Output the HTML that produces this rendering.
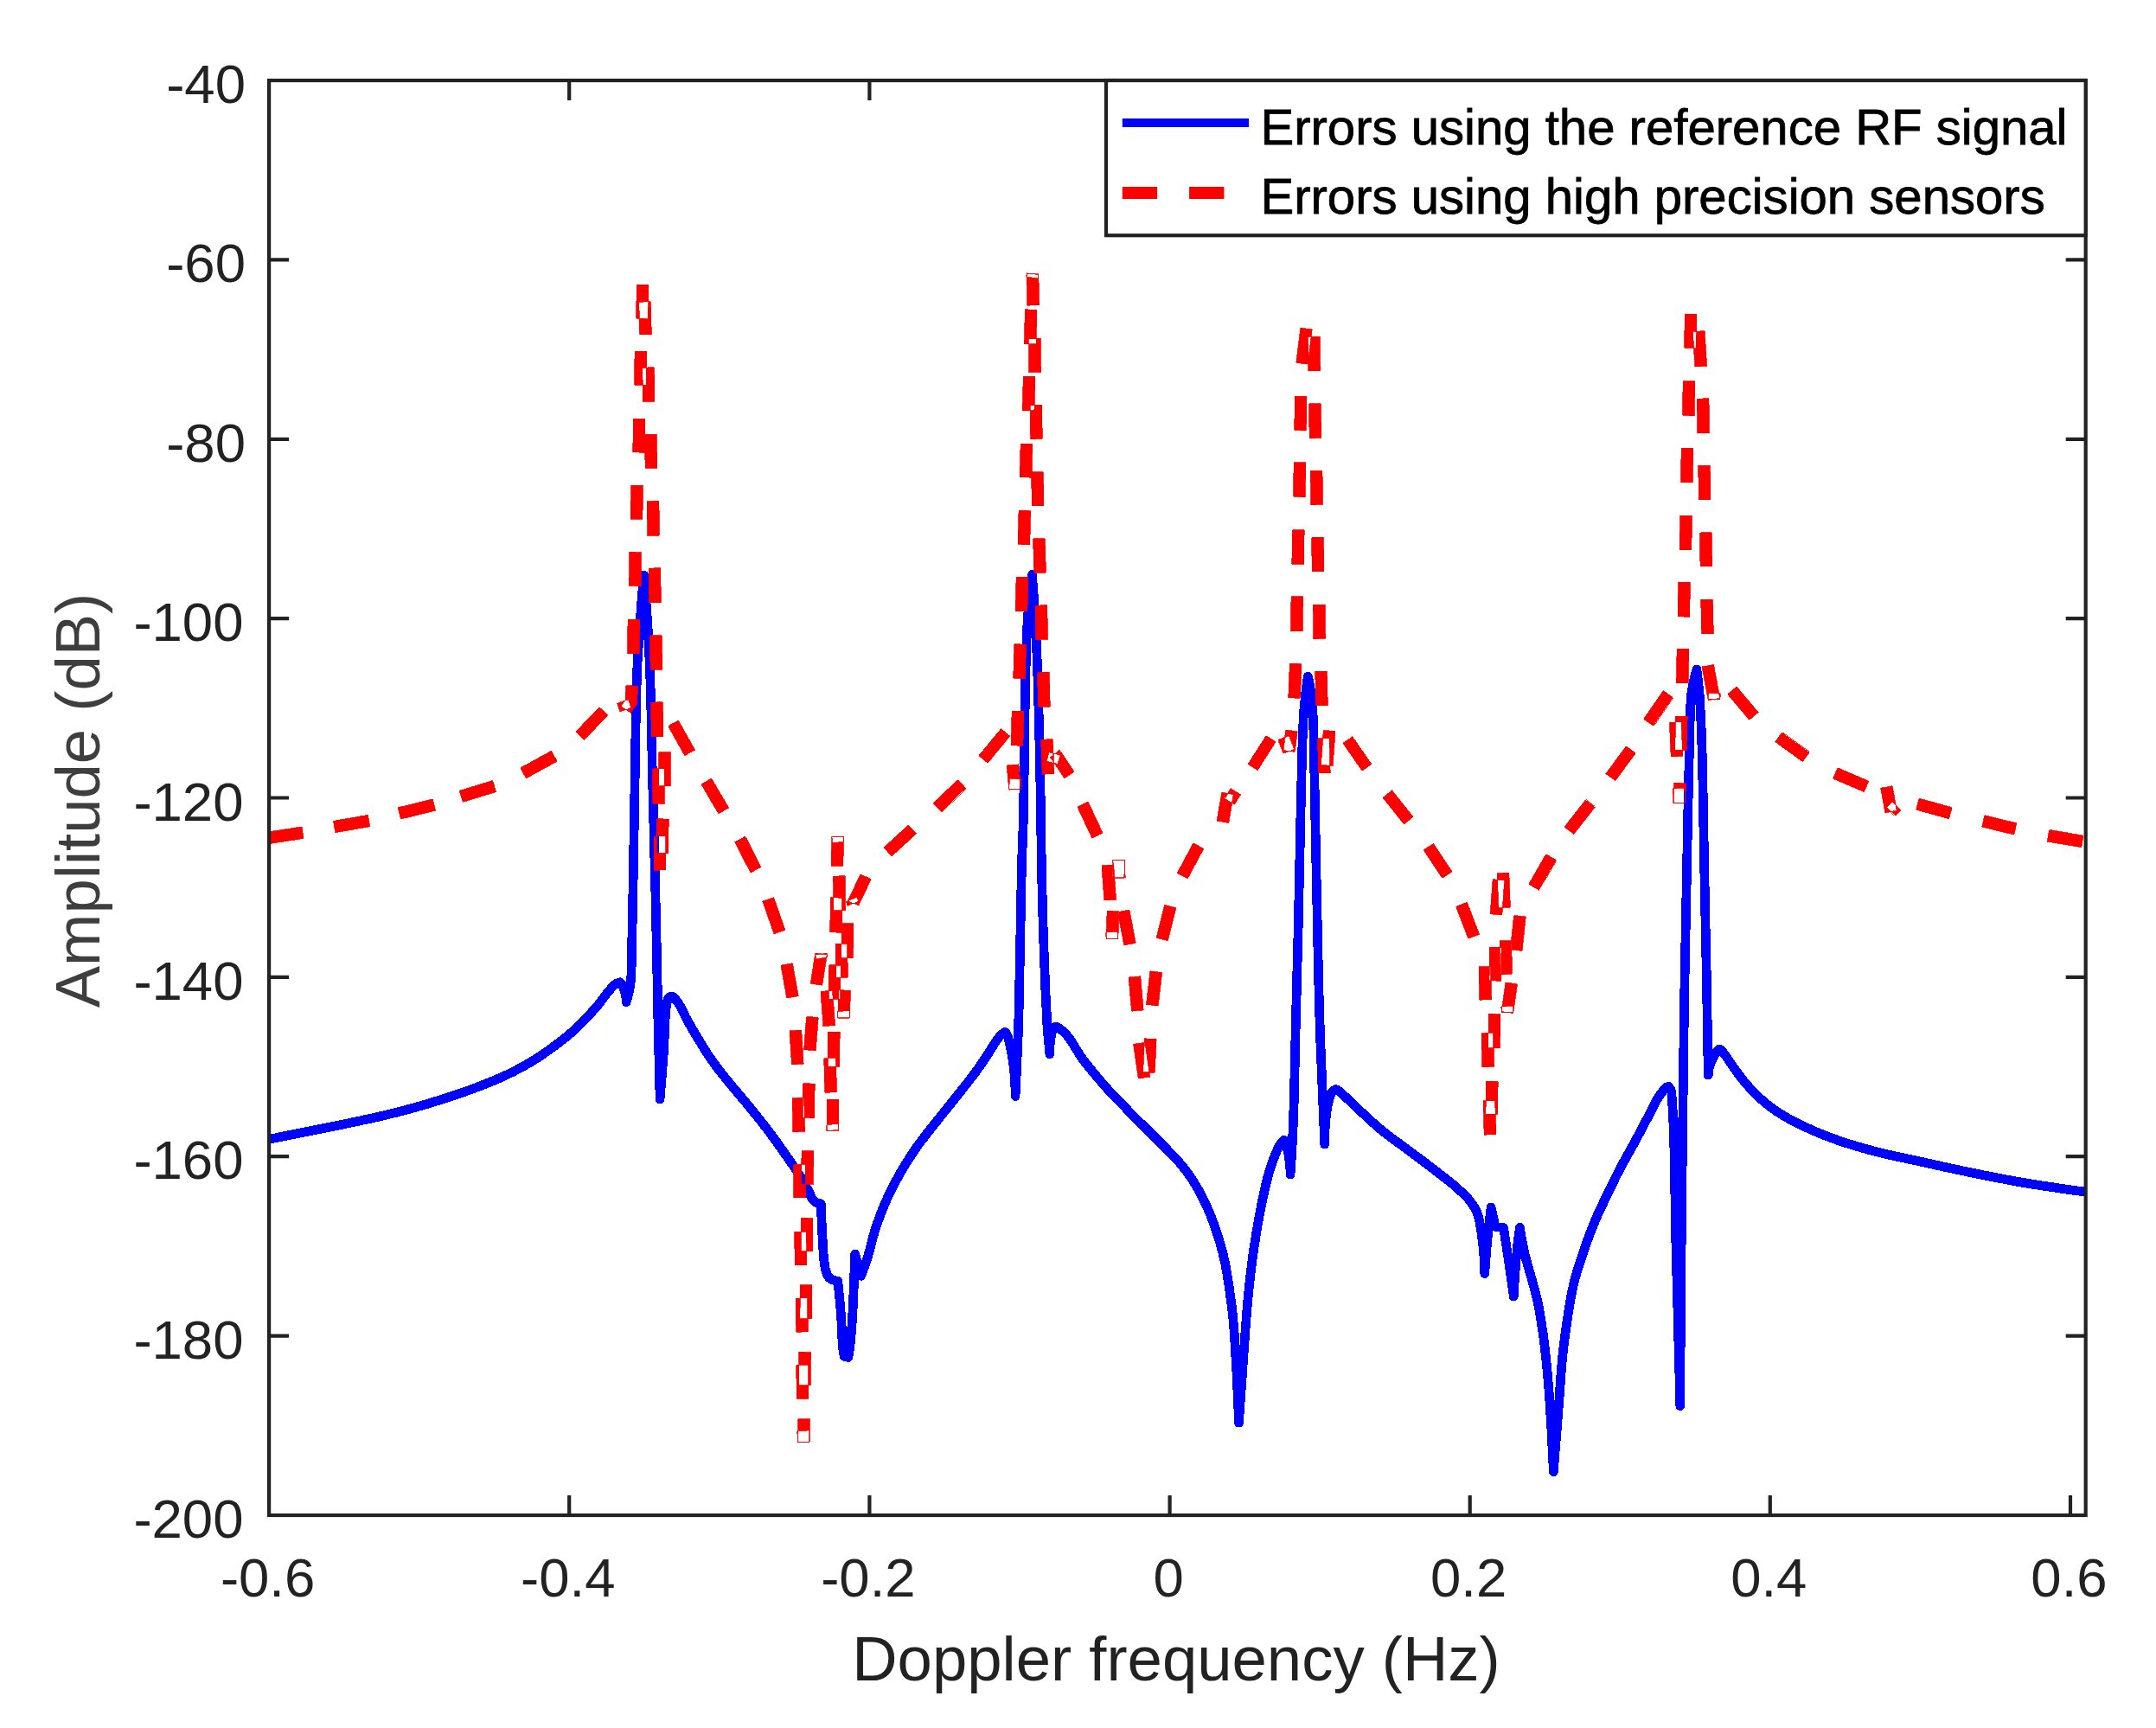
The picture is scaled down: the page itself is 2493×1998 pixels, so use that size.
<!DOCTYPE html>
<html lang="en"><head><meta charset="utf-8"><title>Doppler spectrum errors</title>
<style>
html,body{margin:0;padding:0;background:#fff;}
body{width:2493px;height:1998px;overflow:hidden;}
svg{display:block;}
text{font-family:"Liberation Sans",sans-serif;}
.tk{font-size:63.5px;fill:#222222;}
.lb{font-size:72.5px;fill:#222222;}
.lg{font-size:58.1px;fill:#000;stroke:#000;stroke-width:0.8px;}
</style></head><body>
<svg width="2493" height="1998" viewBox="0 0 2493 1998">
<rect x="0" y="0" width="2493" height="1998" fill="#ffffff"/>

<defs><clipPath id="ax"><rect x="311.1" y="93.0" width="2100.6" height="1659.0"/></clipPath></defs>
<g clip-path="url(#ax)" shape-rendering="crispEdges">
<path d="M433.9 1297.6 L457.6 1292.0 L469.3 1289.0 L484.7 1284.7 L496.4 1281.3 L510.0 1277.1 L523.3 1272.8 L534.7 1268.9 L546.1 1264.9 L557.5 1260.6 L572.6 1254.6 L583.8 1249.7 L594.8 1244.4 L605.5 1238.9 L616.1 1232.8 L626.7 1226.2 L636.6 1219.3 L646.4 1212.2 L656.1 1204.7 L662.4 1199.5 L668.6 1194.1 L674.5 1188.4 L685.9 1176.5 L693.9 1167.6 L696.6 1164.3 L706.3 1151.4 L711.2 1145.6 L713.5 1143.4 L715.3 1142.2 L716.1 1144.4 L717.2 1147.7 L718.0 1151.2 L718.6 1154.8 L718.8 1159.0 L719.1 1160.6 L719.9 1162.1 L721.2 1163.2 L722.7 1163.9 L724.4 1164.0 L726.0 1163.7 L727.4 1162.9 L728.6 1161.6 L729.3 1160.1 L731.4 1152.3 L733.3 1144.2 L734.6 1135.9 L735.1 1129.4 L735.5 1119.2 L737.2 1034.7 L739.1 926.1 L740.6 829.5 L741.8 780.2 L742.7 761.4 L744.3 736.3 L745.4 757.3 L746.5 785.3 L747.5 821.4 L749.2 900.1 L752.6 1034.3 L753.9 1094.5 L755.6 1182.9 L757.8 1271.3 L758.0 1272.9 L758.8 1274.4 L759.9 1275.5 L761.4 1276.3 L762.9 1276.5 L764.5 1276.3 L766.0 1275.7 L767.2 1274.6 L768.1 1273.2 L768.4 1271.6 L770.7 1243.7 L772.8 1215.7 L773.4 1203.6 L774.4 1179.5 L774.9 1171.7 L775.7 1164.0 L776.2 1160.6 L776.8 1158.7 L779.3 1161.8 L781.2 1164.8 L783.0 1168.0 L788.3 1178.9 L790.2 1182.5 L796.3 1193.2 L802.5 1203.6 L811.0 1217.4 L815.3 1224.1 L820.0 1230.8 L827.3 1240.6 L834.8 1250.1 L845.1 1262.6 L858.0 1277.8 L873.1 1296.4 L882.9 1308.9 L892.3 1321.7 L906.1 1341.2 L915.2 1354.3 L919.5 1360.9 L923.5 1367.6 L930.1 1379.3 L931.1 1381.3 L932.9 1385.4 L934.8 1389.1 L935.6 1390.3 L938.1 1393.1 L939.8 1394.3 L942.9 1395.8 L944.2 1396.2 L944.7 1412.5 L946.2 1441.1 L946.8 1449.3 L947.5 1457.5 L948.9 1467.5 L949.6 1470.5 L951.0 1474.7 L951.4 1475.6 L953.4 1479.2 L954.1 1480.2 L955.2 1481.3 L956.0 1482.0 L957.5 1483.1 L958.4 1483.7 L962.1 1485.3 L963.9 1485.8 L965.6 1502.5 L967.0 1519.1 L967.5 1527.3 L968.5 1548.1 L969.5 1560.7 L970.2 1565.2 L971.1 1569.6 L971.6 1571.0 L972.5 1572.2 L973.7 1573.2 L975.1 1573.7 L979.6 1574.7 L981.4 1574.8 L983.0 1574.4 L984.5 1573.4 L985.5 1572.0 L986.1 1570.4 L987.5 1562.3 L988.5 1553.7 L989.7 1541.3 L990.6 1528.7 L991.8 1508.1 L992.9 1479.9 L993.6 1480.3 L995.2 1480.6 L996.9 1480.5 L998.4 1479.8 L999.6 1478.7 L1000.5 1477.2 L1003.5 1469.5 L1007.5 1457.9 L1011.0 1446.4 L1013.9 1434.4 L1016.0 1426.9 L1019.7 1415.6 L1023.9 1404.4 L1027.2 1395.9 L1029.9 1389.8 L1034.9 1379.0 L1040.4 1368.4 L1044.2 1361.5 L1048.2 1354.6 L1052.3 1347.8 L1058.8 1337.7 L1063.2 1331.2 L1067.7 1324.8 L1075.0 1315.3 L1092.5 1293.2 L1110.2 1271.3 L1122.7 1255.4 L1130.2 1245.7 L1135.0 1239.1 L1139.7 1232.4 L1148.6 1219.0 L1155.0 1208.5 L1157.1 1205.5 L1159.3 1202.7 L1160.6 1201.4 L1163.1 1211.7 L1165.2 1222.8 L1166.8 1234.3 L1168.0 1246.3 L1168.6 1258.8 L1168.8 1267.6 L1169.0 1269.2 L1169.8 1270.7 L1170.9 1271.8 L1172.4 1272.6 L1174.0 1272.8 L1175.6 1272.6 L1177.1 1271.9 L1178.3 1270.8 L1179.1 1269.4 L1179.4 1267.7 L1182.2 1207.4 L1183.1 1183.3 L1183.7 1159.1 L1186.5 1014.2 L1187.0 994.2 L1188.5 954.0 L1188.9 937.8 L1189.4 905.6 L1190.6 813.1 L1191.3 776.9 L1192.1 748.8 L1192.6 735.6 L1193.6 756.9 L1194.9 793.1 L1196.0 833.2 L1197.1 881.5 L1198.2 941.7 L1198.9 994.0 L1199.5 1022.2 L1200.7 1066.5 L1202.0 1106.7 L1203.6 1146.9 L1205.4 1183.1 L1206.3 1195.3 L1208.5 1219.4 L1208.9 1220.9 L1209.7 1222.3 L1210.9 1223.4 L1212.4 1224.1 L1214.0 1224.2 L1215.6 1224.0 L1217.0 1223.2 L1218.1 1222.1 L1218.9 1220.6 L1219.1 1219.0 L1219.4 1209.5 L1219.7 1205.5 L1220.2 1201.7 L1220.7 1198.4 L1221.4 1195.3 L1222.0 1193.7 L1223.4 1194.6 L1226.1 1196.9 L1228.5 1199.3 L1230.8 1202.0 L1233.0 1204.9 L1235.1 1208.1 L1243.8 1222.1 L1246.1 1225.7 L1248.6 1229.2 L1253.6 1235.5 L1261.3 1245.0 L1269.1 1254.2 L1277.1 1263.2 L1285.4 1272.1 L1293.9 1280.8 L1308.0 1295.2 L1327.9 1314.9 L1347.7 1334.8 L1353.2 1340.5 L1358.5 1346.2 L1362.7 1351.2 L1365.8 1355.2 L1370.5 1361.5 L1372.7 1364.7 L1374.9 1367.9 L1378.9 1374.5 L1384.6 1384.9 L1389.8 1395.4 L1394.5 1406.3 L1398.7 1417.3 L1402.2 1427.5 L1406.0 1439.8 L1409.0 1451.3 L1411.6 1462.8 L1413.7 1474.4 L1416.1 1490.2 L1418.8 1509.9 L1420.2 1521.7 L1421.3 1533.6 L1422.6 1553.5 L1424.7 1589.4 L1426.0 1617.4 L1427.2 1645.4 L1427.5 1647.0 L1428.2 1648.4 L1429.4 1649.5 L1430.8 1650.3 L1432.4 1650.5 L1434.0 1650.3 L1435.5 1649.6 L1436.7 1648.5 L1437.5 1647.2 L1437.8 1645.6 L1445.4 1537.2 L1448.0 1505.2 L1450.0 1485.2 L1452.3 1465.3 L1454.4 1449.5 L1457.4 1429.7 L1460.8 1409.9 L1464.6 1390.3 L1469.0 1370.8 L1470.9 1363.1 L1473.0 1355.5 L1475.4 1348.0 L1476.7 1344.4 L1479.5 1337.1 L1482.6 1329.9 L1483.1 1328.9 L1484.4 1334.5 L1485.6 1342.2 L1486.1 1345.9 L1486.7 1353.9 L1486.8 1358.0 L1487.0 1359.6 L1487.8 1361.1 L1488.9 1362.2 L1490.4 1363.0 L1492.0 1363.2 L1493.6 1363.0 L1495.1 1362.3 L1496.3 1361.2 L1497.1 1359.8 L1497.4 1358.2 L1499.2 1330.3 L1500.2 1310.2 L1500.9 1294.1 L1501.7 1270.1 L1503.7 1182.1 L1506.7 1066.1 L1509.3 942.0 L1510.7 882.0 L1511.5 854.1 L1512.3 832.9 L1512.8 826.4 L1513.2 832.8 L1514.0 862.1 L1514.9 918.2 L1517.1 1026.6 L1519.0 1118.8 L1520.1 1163.0 L1521.4 1203.2 L1526.4 1323.4 L1526.7 1325.0 L1527.5 1326.5 L1528.7 1327.6 L1530.1 1328.3 L1531.8 1328.5 L1533.4 1328.3 L1534.8 1327.5 L1536.0 1326.4 L1536.8 1324.9 L1537.0 1323.3 L1537.3 1308.5 L1538.2 1295.5 L1539.0 1287.8 L1539.6 1284.2 L1540.9 1277.3 L1542.5 1271.0 L1543.8 1266.6 L1544.8 1265.7 L1546.1 1266.8 L1552.1 1272.2 L1563.8 1283.4 L1578.6 1297.2 L1587.7 1305.4 L1593.9 1310.7 L1603.7 1318.4 L1623.3 1332.7 L1645.9 1349.6 L1671.4 1369.3 L1677.5 1374.3 L1686.4 1382.3 L1692.0 1387.7 L1694.3 1390.4 L1698.9 1396.6 L1700.8 1399.7 L1702.4 1402.8 L1703.6 1406.0 L1704.7 1409.6 L1705.6 1413.3 L1706.3 1417.1 L1708.0 1428.8 L1709.9 1444.7 L1710.6 1452.6 L1711.1 1460.5 L1711.5 1472.6 L1711.7 1474.2 L1712.5 1475.7 L1713.6 1476.8 L1715.1 1477.6 L1716.7 1477.8 L1718.3 1477.6 L1719.8 1477.0 L1721.0 1475.9 L1721.8 1474.5 L1722.1 1472.9 L1723.6 1452.7 L1725.7 1428.7 L1726.3 1422.9 L1726.5 1423.0 L1728.0 1423.5 L1733.9 1424.4 L1739.4 1460.2 L1745.0 1499.9 L1745.5 1501.6 L1746.6 1503.0 L1748.0 1504.0 L1749.7 1504.5 L1751.4 1504.4 L1753.0 1503.8 L1754.4 1502.7 L1755.3 1501.2 L1755.6 1499.5 L1756.7 1479.4 L1758.2 1459.5 L1758.7 1454.4 L1760.2 1460.1 L1765.8 1479.4 L1770.0 1494.9 L1772.8 1506.5 L1773.8 1511.5 L1775.7 1522.0 L1778.8 1541.8 L1780.8 1557.6 L1782.6 1573.6 L1784.1 1589.6 L1785.5 1605.6 L1786.9 1625.6 L1788.4 1650.2 L1789.8 1677.8 L1791.0 1701.9 L1791.3 1703.5 L1792.0 1704.9 L1793.2 1706.1 L1794.6 1706.8 L1796.2 1707.0 L1797.8 1706.8 L1799.3 1706.2 L1800.4 1705.1 L1801.3 1703.7 L1801.6 1702.1 L1807.1 1634.1 L1810.9 1581.9 L1812.0 1569.4 L1813.2 1558.2 L1814.7 1546.3 L1817.0 1530.4 L1819.4 1514.6 L1821.4 1502.8 L1822.9 1495.0 L1824.8 1485.8 L1826.3 1479.7 L1828.5 1472.1 L1832.1 1460.8 L1838.5 1441.8 L1842.6 1430.6 L1846.9 1419.5 L1849.9 1412.2 L1854.8 1401.3 L1868.6 1372.4 L1873.9 1361.7 L1879.4 1351.0 L1896.9 1319.4 L1911.9 1291.0 L1919.2 1276.6 L1921.0 1273.4 L1922.9 1270.5 L1925.6 1266.8 L1927.5 1264.3 L1928.8 1283.2 L1929.9 1306.5 L1930.4 1322.4 L1930.9 1342.6 L1932.3 1428.9 L1937.5 1625.7 L1937.8 1627.4 L1938.5 1628.8 L1939.7 1630.0 L1941.2 1630.7 L1942.9 1630.9 L1944.5 1630.7 L1946.0 1629.9 L1947.1 1628.7 L1947.9 1627.3 L1948.1 1625.6 L1948.7 1529.6 L1949.6 1429.6 L1950.9 1313.6 L1952.7 1173.6 L1953.6 1121.6 L1957.1 941.6 L1959.4 837.5 L1959.9 821.6 L1960.3 810.8 L1961.5 834.3 L1962.7 866.3 L1963.7 910.4 L1965.2 994.6 L1968.0 1131.0 L1969.9 1243.3 L1970.1 1244.9 L1970.9 1246.3 L1972.0 1247.5 L1973.4 1248.2 L1975.0 1248.5 L1976.6 1248.4 L1978.1 1247.7 L1979.3 1246.6 L1980.1 1245.2 L1980.5 1243.7 L1980.9 1239.6 L1981.6 1236.0 L1982.6 1232.5 L1983.9 1229.1 L1985.5 1225.8 L1987.1 1222.6 L1988.4 1220.4 L1991.3 1224.1 L1998.0 1234.2 L2005.1 1244.0 L2010.0 1250.6 L2015.2 1256.9 L2020.8 1263.1 L2026.7 1269.2 L2032.8 1275.0 L2039.1 1280.3 L2045.5 1285.3 L2052.3 1290.1 L2059.5 1294.5 L2066.6 1298.6 L2073.8 1302.4 L2084.9 1307.8 L2096.2 1312.9 L2107.5 1317.6 L2122.8 1323.3 L2135.8 1327.6 L2150.0 1331.9 L2165.6 1336.2 L2175.5 1338.7 L2185.3 1341.0 L2213.0 1346.9 L2248.3 1354.7 L2272.1 1359.8 L2291.8 1363.9 L2315.6 1368.5 L2331.5 1371.5 L2347.5 1374.2 L2367.4 1377.3 L2391.4 1380.8 L2411.4 1383.6 L2411.7 1381.2 L2411.7 1372.8 L2392.9 1370.2 L2369.0 1366.7 L2349.2 1363.6 L2333.4 1360.9 L2317.6 1358.0 L2293.9 1353.4 L2274.2 1349.3 L2250.6 1344.3 L2215.2 1336.4 L2187.7 1330.5 L2178.1 1328.3 L2168.3 1325.8 L2152.9 1321.6 L2139.0 1317.4 L2126.3 1313.1 L2111.3 1307.6 L2100.3 1303.0 L2089.5 1298.2 L2078.7 1292.9 L2071.7 1289.2 L2064.9 1285.3 L2058.3 1281.2 L2051.9 1276.7 L2045.7 1271.9 L2039.8 1266.9 L2034.1 1261.5 L2028.7 1255.9 L2023.4 1250.1 L2018.5 1244.0 L2013.7 1237.7 L2006.7 1228.0 L1999.9 1217.6 L1994.6 1211.0 L1993.3 1209.8 L1991.3 1208.5 L1989.9 1207.9 L1988.4 1207.7 L1986.9 1207.9 L1986.0 1208.1 L1984.7 1208.7 L1983.6 1209.6 L1980.7 1212.7 L1980.1 1213.6 L1978.7 1130.8 L1975.9 994.4 L1974.4 910.2 L1973.4 866.0 L1972.2 833.8 L1970.9 809.3 L1970.4 801.6 L1969.6 793.4 L1967.2 773.5 L1966.8 771.9 L1965.9 770.5 L1964.6 769.5 L1963.1 768.9 L1961.4 768.8 L1959.8 769.2 L1958.4 770.0 L1957.4 771.3 L1956.7 772.8 L1952.7 788.7 L1951.1 796.8 L1950.5 800.7 L1950.0 804.9 L1949.7 809.4 L1949.2 821.2 L1948.7 837.3 L1946.4 941.3 L1942.9 1121.4 L1942.0 1173.4 L1940.4 1300.9 L1939.5 1282.5 L1938.1 1262.6 L1938.0 1261.6 L1937.1 1258.4 L1936.4 1256.9 L1934.0 1253.4 L1932.8 1252.1 L1931.2 1251.2 L1930.7 1251.1 L1928.8 1250.9 L1927.0 1251.3 L1925.1 1252.1 L1923.4 1253.2 L1920.5 1256.0 L1916.9 1260.5 L1914.1 1264.4 L1911.8 1267.9 L1909.7 1271.6 L1902.4 1286.0 L1887.5 1314.4 L1869.9 1346.0 L1864.4 1356.8 L1859.0 1367.6 L1845.0 1396.9 L1840.1 1407.9 L1837.0 1415.5 L1832.5 1426.9 L1828.4 1438.3 L1821.9 1457.5 L1818.3 1469.0 L1816.0 1476.9 L1814.4 1483.5 L1812.4 1492.8 L1810.8 1501.0 L1808.8 1513.0 L1806.4 1528.9 L1804.1 1544.8 L1802.6 1557.0 L1801.4 1568.4 L1800.2 1581.0 L1797.3 1621.5 L1796.1 1604.8 L1794.8 1588.6 L1793.2 1572.4 L1791.4 1556.4 L1789.4 1540.3 L1786.3 1520.1 L1784.4 1509.5 L1783.3 1504.2 L1780.3 1492.3 L1776.1 1476.6 L1770.5 1457.1 L1768.5 1449.6 L1765.3 1434.0 L1763.9 1426.2 L1762.7 1418.3 L1762.2 1416.7 L1761.2 1415.3 L1759.8 1414.3 L1758.2 1413.8 L1756.5 1413.8 L1754.9 1414.4 L1753.6 1415.4 L1752.6 1416.8 L1752.1 1418.4 L1749.9 1434.3 L1748.5 1448.9 L1743.9 1419.0 L1743.4 1417.4 L1742.4 1416.0 L1741.1 1415.0 L1739.5 1414.5 L1733.4 1413.5 L1729.3 1394.9 L1728.7 1393.3 L1727.7 1392.0 L1726.3 1391.1 L1724.7 1390.7 L1723.0 1390.8 L1721.5 1391.3 L1720.2 1392.4 L1719.2 1393.7 L1718.8 1395.3 L1716.5 1413.8 L1716.0 1410.9 L1715.0 1406.7 L1713.9 1402.8 L1712.3 1398.8 L1710.3 1394.6 L1707.8 1390.7 L1702.8 1383.9 L1699.6 1380.2 L1693.6 1374.4 L1684.4 1366.1 L1678.0 1360.9 L1652.4 1341.1 L1629.7 1324.2 L1610.1 1309.8 L1600.8 1302.5 L1594.8 1297.4 L1585.8 1289.3 L1571.1 1275.6 L1559.3 1264.3 L1553.1 1258.7 L1549.6 1255.9 L1547.7 1254.9 L1546.1 1254.4 L1544.6 1254.3 L1543.0 1254.5 L1541.2 1255.1 L1539.2 1256.3 L1535.9 1259.4 L1534.8 1260.8 L1534.5 1261.4 L1532.1 1202.7 L1530.8 1162.7 L1529.7 1118.6 L1527.7 1026.3 L1525.6 918.0 L1524.7 861.9 L1523.8 832.3 L1523.0 817.6 L1522.3 809.3 L1521.4 801.0 L1519.3 788.8 L1517.5 781.0 L1516.9 779.5 L1515.9 778.2 L1514.5 777.3 L1512.9 776.9 L1511.3 776.9 L1509.7 777.5 L1508.4 778.5 L1507.5 779.8 L1507.0 781.4 L1505.8 789.3 L1504.8 797.5 L1502.4 821.6 L1501.7 832.4 L1500.8 853.7 L1500.0 881.8 L1498.6 941.8 L1496.0 1065.8 L1493.0 1181.8 L1491.0 1269.8 L1490.2 1293.8 L1489.6 1309.7 L1489.3 1315.3 L1488.6 1314.4 L1487.2 1313.5 L1485.7 1313.0 L1484.0 1313.0 L1482.6 1313.4 L1481.4 1314.2 L1478.6 1316.6 L1477.8 1317.3 L1476.6 1318.8 L1474.9 1321.5 L1472.9 1325.4 L1469.7 1332.9 L1466.7 1340.6 L1465.3 1344.6 L1462.7 1352.6 L1460.5 1360.4 L1458.5 1368.4 L1454.1 1388.2 L1450.3 1408.1 L1446.9 1428.0 L1443.8 1447.9 L1441.7 1464.0 L1439.4 1484.1 L1437.4 1504.2 L1434.8 1536.4 L1433.5 1555.1 L1431.9 1532.7 L1430.8 1520.6 L1429.4 1508.5 L1426.7 1488.7 L1424.2 1472.6 L1422.0 1460.6 L1419.4 1448.6 L1416.2 1436.8 L1412.4 1424.2 L1408.7 1413.6 L1404.4 1402.3 L1399.6 1391.1 L1394.2 1380.0 L1388.1 1369.1 L1383.8 1362.1 L1379.2 1355.2 L1374.3 1348.6 L1370.9 1344.3 L1366.4 1339.1 L1360.9 1333.1 L1355.3 1327.3 L1335.5 1307.3 L1315.5 1287.6 L1301.5 1273.4 L1293.2 1264.8 L1285.1 1256.1 L1277.2 1247.2 L1269.5 1238.1 L1262.0 1228.8 L1257.1 1222.7 L1254.9 1219.6 L1252.7 1216.3 L1244.1 1202.4 L1241.8 1198.8 L1239.0 1195.2 L1236.2 1191.9 L1233.2 1188.9 L1230.1 1186.3 L1226.1 1183.5 L1224.5 1182.8 L1222.2 1182.1 L1220.6 1182.0 L1219.0 1182.3 L1217.8 1182.7 L1216.6 1183.3 L1216.2 1183.7 L1214.3 1146.5 L1212.7 1106.3 L1211.3 1066.2 L1210.2 1022.0 L1209.6 993.8 L1208.9 941.6 L1207.8 881.2 L1206.7 833.0 L1205.6 792.8 L1204.3 756.5 L1202.8 724.3 L1201.2 696.1 L1198.8 664.0 L1198.4 662.3 L1197.5 660.8 L1196.1 659.7 L1194.5 659.1 L1192.7 659.1 L1191.1 659.6 L1189.7 660.7 L1188.7 662.1 L1188.2 663.8 L1185.4 687.9 L1183.5 707.9 L1182.4 724.3 L1181.4 748.4 L1180.6 776.6 L1179.9 812.9 L1178.7 905.4 L1178.2 937.6 L1177.8 953.6 L1176.3 993.8 L1175.8 1014.0 L1173.0 1158.8 L1172.4 1182.9 L1171.7 1201.9 L1170.6 1197.4 L1168.9 1193.2 L1167.6 1191.4 L1165.7 1189.5 L1164.3 1188.6 L1162.7 1188.1 L1161.0 1188.1 L1160.4 1188.3 L1158.1 1189.3 L1154.9 1191.8 L1154.3 1192.4 L1151.3 1195.6 L1148.6 1199.0 L1146.1 1202.6 L1139.6 1213.1 L1130.8 1226.5 L1126.3 1232.9 L1121.6 1239.3 L1114.3 1248.8 L1101.8 1264.6 L1084.1 1286.6 L1066.6 1308.6 L1059.1 1318.5 L1054.3 1325.1 L1049.8 1331.9 L1043.2 1342.2 L1039.0 1349.1 L1034.9 1356.2 L1030.9 1363.5 L1025.3 1374.4 L1020.1 1385.5 L1017.3 1391.9 L1013.8 1400.6 L1009.6 1412.0 L1005.8 1423.6 L1003.5 1431.8 L1000.7 1443.4 L997.3 1454.7 L996.3 1457.6 L993.9 1448.6 L993.2 1447.1 L992.1 1445.8 L990.6 1445.0 L988.9 1444.7 L987.3 1444.8 L985.7 1445.5 L984.5 1446.7 L983.7 1448.1 L983.4 1449.8 L981.1 1507.6 L980.0 1528.1 L978.9 1541.6 L978.2 1526.7 L977.6 1518.2 L976.2 1501.5 L974.1 1480.8 L973.7 1479.1 L972.8 1477.7 L971.4 1476.6 L969.8 1476.0 L965.9 1475.3 L963.3 1474.1 L962.7 1473.7 L962.4 1473.4 L961.0 1470.8 L959.8 1467.4 L959.5 1465.9 L958.2 1456.4 L957.4 1448.5 L956.9 1440.4 L955.4 1412.0 L954.7 1391.7 L954.4 1390.0 L953.5 1388.5 L952.2 1387.3 L950.6 1386.7 L946.9 1385.9 L945.4 1385.1 L944.0 1383.6 L942.5 1380.7 L940.8 1376.8 L939.5 1374.2 L932.8 1362.2 L928.5 1355.1 L924.0 1348.3 L914.9 1335.1 L901.0 1315.3 L891.4 1302.4 L881.4 1289.7 L866.3 1271.0 L853.3 1255.7 L843.2 1243.4 L835.8 1234.1 L828.7 1224.6 L824.2 1218.2 L820.0 1211.6 L811.7 1198.1 L805.6 1187.8 L799.6 1177.4 L797.8 1174.1 L792.5 1163.2 L790.5 1159.5 L788.2 1155.9 L785.5 1152.4 L782.2 1148.8 L780.2 1147.4 L778.6 1146.8 L776.7 1146.5 L774.8 1146.8 L773.0 1147.5 L771.2 1148.6 L769.1 1150.6 L768.1 1151.9 L767.6 1152.9 L767.2 1153.8 L765.9 1157.8 L764.6 1094.3 L763.3 1034.1 L759.8 899.9 L758.2 821.1 L757.2 784.9 L756.1 756.7 L754.4 724.6 L752.1 692.4 L749.7 664.3 L749.3 662.6 L748.3 661.2 L746.9 660.1 L745.3 659.5 L743.5 659.5 L741.9 660.1 L740.5 661.2 L739.5 662.7 L739.1 664.4 L736.4 696.5 L733.2 740.6 L732.0 760.9 L731.2 779.9 L729.9 829.3 L728.4 925.9 L726.5 1034.5 L724.8 1118.9 L724.5 1128.9 L724.0 1134.4 L723.8 1135.6 L721.4 1132.5 L720.0 1131.2 L718.2 1130.5 L716.4 1130.4 L715.0 1130.7 L712.0 1131.7 L710.8 1132.3 L707.2 1134.7 L706.5 1135.3 L703.2 1138.5 L697.9 1144.9 L688.3 1157.6 L685.9 1160.5 L678.0 1169.3 L667.0 1180.8 L661.4 1186.2 L655.5 1191.3 L649.5 1196.3 L640.1 1203.6 L630.5 1210.6 L620.7 1217.3 L610.7 1223.6 L600.5 1229.4 L590.0 1234.9 L579.3 1240.0 L568.4 1244.7 L553.7 1250.6 L542.5 1254.8 L531.2 1258.8 L519.9 1262.7 L506.8 1266.9 L493.3 1271.0 L481.9 1274.4 L466.5 1278.6 L455.0 1281.6 L431.6 1287.1 L400.4 1293.8 L311.1 1311.8 L311.1 1317.3 L312.2 1322.5 L402.5 1304.3Z" fill="#0000ff" fill-rule="nonzero"/>
<path d="M312.1 975.4 L351.0 969.4 L349.0 956.0 L311.1 961.8 L311.1 968.7ZM387.9 962.6 L427.7 955.7 L425.3 942.3 L385.5 949.2ZM463.4 947.0 L503.6 937.2 L500.4 924.0 L460.2 933.8ZM535.3 927.3 L573.8 915.5 L569.8 902.5 L531.3 914.3ZM608.4 899.9 L644.1 880.3 L637.5 868.3 L601.8 887.9ZM675.3 855.7 L702.9 827.1 L693.1 817.7 L665.5 846.3ZM717.1 822.9 L723.5 820.5 L718.0 816.5 L722.8 810.0 L713.6 813.4ZM723.8 792.7 L723.1 809.6 L722.8 810.0 L726.4 808.7 L729.9 818.1 L723.5 820.5 L729.0 824.5 L736.5 814.4 L737.4 793.3ZM725.6 755.5 L739.2 755.7 L739.7 716.4 L726.1 716.2ZM727.4 677.4 L741.0 677.6 L741.5 638.6 L727.9 638.4ZM729.3 600.2 L742.9 600.4 L743.3 561.4 L729.7 561.2ZM731.9 522.9 L745.5 523.1 L745.7 502.9 L745.7 502.2 L745.7 502.2 L745.9 484.5 L732.3 484.3ZM746.1 541.3 L759.7 541.1 L759.3 502.0 L745.7 502.2 L745.7 502.9ZM747.7 406.4 L734.1 406.2 L733.7 445.3 L743.1 445.4 L742.8 425.1 L747.5 425.0ZM756.4 424.9 L747.5 425.0 L747.3 445.5 L743.1 445.4 L743.4 464.2 L757.0 464.0ZM749.9 329.5 L736.3 329.3 L735.7 368.4 L739.2 368.4 L738.8 349.1 L749.6 348.9ZM749.6 348.9 L749.3 368.6 L739.2 368.4 L739.6 386.9 L753.2 386.7 L752.4 348.9ZM748.3 579.6 L748.7 619.5 L762.3 619.3 L761.9 579.4ZM763.8 656.9 L750.2 657.1 L750.6 696.8 L764.2 696.6ZM765.7 774.0 L765.3 734.7 L751.7 734.9 L752.1 774.2ZM753.2 852.0 L766.8 851.8 L766.4 811.9 L752.8 812.1ZM768.5 929.0 L768.3 908.7 L761.5 908.6 L761.7 888.9 L754.5 889.0 L754.9 929.2ZM768.3 908.7 L775.1 908.8 L775.5 869.9 L761.9 869.7 L761.7 888.9 L768.1 888.8ZM759.3 967.0 L756.0 967.1 L756.4 1006.1 L770.0 1005.9 L769.8 986.5 L759.1 986.4ZM772.7 986.6 L773.1 947.1 L759.5 946.9 L759.3 967.0 L769.6 966.9 L769.8 986.5ZM772.6 839.6 L791.7 873.6 L803.5 867.0 L784.4 833.0ZM822.7 900.1 L810.9 906.9 L830.8 940.8 L842.6 934.0ZM861.7 966.9 L849.5 973.1 L867.8 1008.9 L880.0 1002.7ZM894.7 1037.8 L881.9 1042.2 L895.0 1079.7 L907.8 1075.3ZM916.4 1113.8 L903.0 1116.2 L909.7 1154.0 L923.1 1151.6ZM926.7 1191.1 L913.1 1191.9 L915.5 1230.9 L929.1 1230.1ZM930.3 1292.4 L928.0 1292.4 L928.3 1269.4 L916.2 1269.6 L917.0 1308.6 L930.6 1308.4ZM929.8 1269.4 L930.3 1292.4 L941.6 1292.6 L942.1 1253.1 L928.5 1252.9 L928.3 1269.4ZM931.4 1369.4 L926.7 1369.3 L926.9 1346.4 L917.5 1346.5 L918.0 1384.9 L931.6 1384.7ZM931.4 1369.4 L940.3 1369.5 L940.7 1330.7 L927.1 1330.5 L926.9 1346.4 L931.1 1346.3ZM932.6 1446.8 L926.0 1446.7 L926.2 1424.3 L918.8 1424.4 L919.2 1462.7 L932.8 1462.5ZM939.6 1446.9 L940.0 1408.6 L926.4 1408.4 L926.2 1424.3 L932.4 1424.2 L932.6 1446.8ZM938.9 1486.0 L925.3 1485.8 L925.1 1501.0 L933.8 1500.9 L934.0 1524.7 L938.5 1524.8ZM934.0 1524.7 L924.9 1524.6 L925.1 1501.0 L920.2 1501.1 L920.6 1540.1 L934.2 1539.9ZM921.2 1617.3 L934.8 1617.1 L934.7 1601.9 L923.6 1601.8 L923.8 1578.4 L920.9 1578.5ZM924.0 1563.4 L923.8 1578.4 L934.5 1578.3 L934.7 1601.9 L937.2 1602.0 L937.6 1563.6ZM922.4 1667.2 L922.6 1654.4 L921.9 1654.5 L922.4 1667.6 L929.2 1667.3ZM936.0 1667.4 L936.5 1640.7 L922.9 1640.5 L922.6 1654.4 L935.5 1653.9 L936.0 1667.0 L929.2 1667.3ZM946.1 1176.5 L932.5 1175.5 L929.6 1213.7 L943.2 1214.7ZM955.7 1107.1 L943.6 1109.1 L942.8 1104.1 L949.5 1103.0 L942.8 1101.9 L937.3 1137.0 L950.7 1139.2ZM956.2 1101.9 L949.5 1103.0 L956.2 1104.1 L955.7 1107.1 L957.0 1106.9ZM949.0 1146.4 L952.0 1186.5 L965.6 1185.5 L963.3 1155.2 L958.1 1155.1 L958.2 1145.7ZM963.3 1155.2 L969.5 1155.3 L969.8 1144.8 L971.8 1144.9 L972.0 1130.4 L966.8 1130.5 L966.5 1116.0 L958.6 1115.9 L958.2 1145.7 L962.6 1145.4ZM971.8 1144.9 L971.7 1155.3 L969.5 1155.3 L969.0 1169.3 L982.0 1168.7 L982.4 1176.7 L975.6 1177.0 L982.4 1177.2 L983.4 1145.2ZM980.4 1130.3 L979.9 1107.9 L972.7 1107.8 L973.0 1091.4 L966.0 1091.5 L966.5 1116.0 L972.2 1116.1 L972.0 1130.4ZM973.0 1091.4 L979.6 1091.3 L979.9 1107.9 L986.3 1108.0 L987.0 1067.8 L973.6 1067.6 L973.4 1078.1 L973.2 1078.1ZM957.1 1223.5 L952.8 1223.6 L953.8 1263.2 L967.4 1262.8 L966.7 1233.3 L957.0 1233.2ZM957.5 1193.1 L957.1 1223.5 L966.4 1223.2 L966.7 1233.3 L970.6 1233.4 L971.1 1193.3ZM956.2 1271.3 L956.0 1300.4 L969.1 1299.5 L969.6 1306.5 L962.8 1307.0 L969.6 1307.0 L969.8 1271.3ZM956.0 1300.4 L955.5 1300.5 L956.0 1307.5 L962.8 1307.0 L956.0 1307.0ZM960.4 1037.9 L959.8 1077.9 L973.2 1078.1 L973.4 1067.6 L973.6 1067.6 L973.8 1052.9 L964.0 1053.0 L963.8 1037.9ZM963.8 1037.9 L974.0 1038.1 L973.8 1052.9 L977.6 1052.8 L977.0 1012.9 L963.4 1013.1ZM961.1 1001.0 L974.7 1001.4 L975.4 973.5 L962.4 974.5 L961.9 968.0 L968.7 967.5 L961.9 967.3ZM968.7 967.5 L975.5 967.7 L975.4 973.5 L976.0 973.5 L975.5 967.0ZM968.4 1169.3 L968.8 1177.3 L975.6 1177.0 L968.8 1176.8 L969.0 1169.3ZM995.0 1010.9 L980.4 1041.6 L980.6 1041.7 L990.7 1037.2 L992.7 1041.7 L986.5 1044.5 L992.6 1047.4 L1007.2 1016.7ZM980.3 1047.3 L986.5 1044.5 L980.6 1041.7 L978.3 1042.8ZM1050.4 953.9 L1021.9 980.0 L1031.1 990.0 L1059.6 963.9ZM1107.4 901.6 L1079.1 928.7 L1088.5 938.5 L1116.8 911.4ZM1157.2 842.5 L1131.6 873.6 L1142.2 882.2 L1167.8 851.1ZM1180.3 911.9 L1173.5 912.5 L1180.3 913.0 L1181.1 901.0 L1179.3 900.8ZM1167.5 900.0 L1179.3 900.8 L1177.8 883.9 L1164.2 885.1 L1166.7 913.1 L1173.5 912.5 L1166.7 912.0ZM1182.8 862.2 L1183.8 822.4 L1170.2 822.0 L1169.2 861.8ZM1171.8 784.2 L1185.4 784.6 L1186.4 745.2 L1172.8 744.8ZM1175.2 667.0 L1174.2 706.5 L1187.8 706.9 L1188.8 667.4ZM1191.7 590.6 L1178.1 590.2 L1177.1 629.4 L1190.7 629.8ZM1192.8 552.0 L1192.7 545.7 L1193.0 545.7 L1193.8 513.5 L1180.2 513.1 L1179.2 551.7 L1192.8 552.1ZM1193.0 545.7 L1192.8 552.0 L1193.3 584.7 L1206.9 584.5 L1206.3 545.5ZM1196.9 435.4 L1183.3 435.0 L1182.3 474.6 L1191.1 474.9 L1191.0 468.6 L1196.1 468.5ZM1196.1 468.5 L1195.9 475.0 L1191.1 474.9 L1191.6 507.6 L1205.2 507.4 L1204.6 468.4ZM1189.5 397.7 L1189.4 391.6 L1198.2 391.5 L1199.0 358.3 L1185.4 357.9 L1184.4 397.5ZM1198.0 397.9 L1189.5 397.7 L1190.0 430.5 L1203.6 430.3 L1203.0 391.4 L1198.2 391.5ZM1201.6 352.7 L1200.8 316.5 L1194.0 316.7 L1200.8 317.5 L1200.3 321.9 L1187.3 320.4 L1188.0 353.1ZM1187.3 320.4 L1187.2 316.9 L1194.0 316.7 L1187.2 315.9 L1186.7 320.3ZM1195.7 662.4 L1209.3 662.0 L1208.3 622.6 L1194.7 623.0ZM1197.1 700.1 L1197.9 739.5 L1211.5 739.3 L1210.7 699.9ZM1213.2 777.2 L1199.6 777.6 L1200.6 817.4 L1214.2 817.0ZM1217.9 871.0 L1217.3 854.7 L1203.7 855.3 L1205.2 895.2 L1218.8 894.6 L1218.3 882.5 L1210.0 880.1 L1213.0 869.6ZM1218.3 881.0 L1218.3 882.5 L1219.5 882.9ZM1219.5 882.9 L1230.5 899.5 L1241.9 892.1 L1227.9 870.9 L1224.7 867.1 L1219.5 871.5 L1226.0 873.4 L1223.0 883.9ZM1218.0 872.8 L1219.5 871.5 L1217.9 871.0ZM1217.1 879.1 L1218.3 881.0 L1218.0 872.8 L1214.3 875.9ZM1258.2 927.1 L1245.8 932.9 L1262.7 969.0 L1275.1 963.2ZM1286.7 1000.0 L1274.0 1000.9 L1276.9 1041.0 L1290.5 1040.0 L1288.7 1015.2 L1287.5 1015.2 L1287.5 1014.8 L1286.3 1014.8ZM1288.7 1014.9 L1288.7 1015.2 L1293.7 1015.0ZM1287.6 999.9 L1287.1 999.9 L1287.5 1014.8 L1288.7 1014.9ZM1293.7 1015.0 L1299.9 1015.2 L1299.9 1014.8ZM1300.5 994.2 L1293.7 994.4 L1300.5 994.6 L1299.9 1014.8 L1301.1 1014.8ZM1286.9 994.6 L1293.7 994.4 L1286.9 994.2 L1286.7 1000.0 L1287.1 999.9ZM1292.5 1054.7 L1293.8 1054.4 L1293.8 1053.7 L1280.2 1053.3 L1279.4 1077.9 L1292.3 1077.1 L1292.8 1085.1 L1286.0 1085.5 L1292.8 1085.7 L1293.6 1060.3ZM1313.2 1090.3 L1305.9 1052.1 L1293.8 1054.4 L1293.6 1060.3 L1299.8 1092.9ZM1278.7 1077.9 L1279.2 1085.9 L1286.0 1085.5 L1279.2 1085.3 L1279.4 1077.9ZM1308.5 1169.0 L1322.1 1167.8 L1318.7 1128.9 L1305.1 1130.1ZM1321.6 1239.7 L1323.2 1205.6 L1310.6 1207.4 L1316.3 1247.0 L1329.7 1245.0 L1329.0 1240.0ZM1329.0 1240.0 L1335.2 1240.3 L1337.0 1201.5 L1323.4 1200.9 L1323.2 1205.6 L1324.0 1205.4ZM1329.9 1122.9 L1325.5 1161.5 L1339.1 1163.1 L1343.5 1124.5ZM1359.8 1049.8 L1346.6 1046.4 L1337.1 1084.3 L1350.3 1087.7ZM1373.3 1015.8 L1391.8 981.3 L1379.8 974.9 L1361.3 1009.4ZM1423.0 911.7 L1419.5 917.5 L1426.2 918.7 L1424.5 928.5 L1427.5 930.3 L1434.5 918.7ZM1416.0 923.3 L1419.5 917.5 L1412.8 916.3 L1407.1 949.0 L1420.5 951.4 L1424.5 928.5ZM1442.8 883.4 L1454.2 890.6 L1475.1 857.7 L1463.7 850.5ZM1490.5 868.5 L1483.8 867.6 L1485.7 852.5 L1478.2 855.5 L1484.2 871.0ZM1497.2 869.4 L1500.2 845.9 L1486.8 844.1 L1485.7 852.5 L1490.8 850.5 L1496.8 866.0 L1490.5 868.5ZM1491.4 767.1 L1489.8 806.7 L1503.4 807.3 L1505.0 767.7ZM1506.7 690.0 L1493.1 689.8 L1492.5 729.5 L1506.1 729.7ZM1507.5 652.4 L1508.1 612.8 L1494.5 612.6 L1493.9 652.2ZM1495.6 574.4 L1509.2 574.6 L1509.8 535.0 L1496.2 534.8ZM1497.4 458.0 L1496.8 497.4 L1510.4 497.6 L1511.0 458.2ZM1512.4 389.4 L1516.2 389.3 L1517.2 380.9 L1503.8 379.3 L1498.8 419.4 L1512.2 421.0 L1512.8 416.5ZM1526.0 389.2 L1516.2 389.3 L1512.8 416.5 L1513.0 428.8 L1526.6 428.6ZM1527.2 466.8 L1513.6 467.0 L1514.2 506.6 L1527.8 506.4ZM1529.5 583.4 L1528.9 544.0 L1515.3 544.2 L1515.9 583.6ZM1517.3 660.9 L1530.9 660.7 L1530.3 621.3 L1516.7 621.5ZM1518.4 699.3 L1519.0 738.6 L1532.6 738.4 L1532.0 699.1ZM1534.4 776.0 L1520.8 776.2 L1521.6 816.0 L1535.2 815.8ZM1527.4 884.5 L1529.6 853.8 L1523.7 853.9 L1524.5 893.8 L1538.1 893.6 L1537.9 885.3ZM1537.9 885.3 L1541.0 885.5 L1543.9 845.5 L1530.3 844.5 L1529.6 853.8 L1537.3 853.7ZM1552.9 859.3 L1575.0 891.2 L1586.2 883.4 L1564.1 851.5ZM1599.0 922.3 L1623.4 952.9 L1634.0 944.5 L1609.6 913.9ZM1646.2 982.8 L1667.6 1015.4 L1679.0 1008.0 L1657.6 975.4ZM1683.5 1048.0 L1697.7 1085.1 L1710.5 1080.3 L1696.3 1043.2ZM1721.9 1133.9 L1722.2 1117.7 L1710.0 1118.0 L1711.0 1156.1 L1724.6 1155.7 L1724.0 1133.9ZM1724.0 1133.9 L1735.5 1134.1 L1735.6 1126.6 L1734.7 1126.6 L1734.2 1095.5 L1722.5 1095.3 L1722.2 1117.7 L1723.6 1117.6ZM1734.1 1088.0 L1734.2 1095.5 L1736.1 1095.5 L1735.6 1126.6 L1748.3 1126.4 L1747.9 1098.0 L1746.4 1097.9 L1747.5 1087.8ZM1747.9 1098.0 L1760.0 1099.3 L1764.2 1060.0 L1750.6 1058.6 L1747.5 1087.8 L1747.7 1087.8ZM1727.0 1211.6 L1720.7 1211.5 L1721.0 1194.4 L1713.0 1194.6 L1714.0 1233.7 L1727.6 1233.3ZM1734.3 1211.7 L1734.9 1172.6 L1721.3 1172.4 L1721.0 1194.4 L1726.6 1194.2 L1727.0 1211.6ZM1715.2 1273.0 L1716.2 1312.1 L1729.8 1311.7 L1729.2 1288.4 L1717.9 1288.2 L1718.1 1272.9ZM1732.1 1250.5 L1718.5 1250.3 L1718.1 1272.9 L1728.8 1272.6 L1729.2 1288.4 L1731.5 1288.4ZM1726.2 1016.8 L1723.2 1056.8 L1736.8 1057.8 L1737.4 1049.6 L1732.7 1049.8 L1731.5 1017.2ZM1731.5 1017.2 L1739.8 1017.8 L1737.4 1049.6 L1746.3 1049.2 L1744.8 1009.2 L1731.2 1009.8ZM1737.1 1163.7 L1749.5 1163.2 L1749.8 1170.2 L1743.0 1170.5 L1749.7 1171.4 L1754.4 1137.8 L1741.0 1136.0ZM1735.9 1163.8 L1736.2 1170.8 L1743.0 1170.5 L1736.3 1169.6 L1737.1 1163.7ZM1779.5 1029.1 L1799.4 994.5 L1787.6 987.7 L1767.7 1022.3ZM1819.8 964.5 L1844.3 933.2 L1833.5 924.8 L1809.0 956.1ZM1867.8 902.6 L1891.3 870.9 L1880.3 862.9 L1856.8 894.6ZM1911.8 839.2 L1934.4 806.5 L1923.2 798.7 L1900.6 831.4ZM1936.7 867.4 L1937.4 835.0 L1930.5 835.3 L1932.2 874.9 L1945.8 874.3 L1945.5 867.5ZM1951.1 828.2 L1937.5 828.0 L1937.4 835.0 L1944.1 834.7 L1945.5 867.5 L1950.3 867.6ZM1941.8 928.5 L1948.6 928.7 L1949.3 905.7 L1935.7 905.3 L1935.5 911.7 L1947.8 911.1 L1948.6 928.2ZM1935.0 928.8 L1941.8 928.5 L1935.0 928.3 L1935.5 911.7 L1934.2 911.7ZM1952.0 789.7 L1952.8 750.5 L1939.2 750.3 L1938.4 789.5ZM1940.0 712.9 L1953.6 713.1 L1954.4 673.4 L1940.8 673.2ZM1942.8 596.1 L1942.2 635.5 L1955.8 635.7 L1956.4 596.3ZM1957.8 518.5 L1944.2 518.3 L1943.6 557.5 L1957.2 557.7ZM1959.2 480.6 L1959.8 441.0 L1946.2 440.8 L1945.6 480.4ZM1957.4 383.5 L1961.6 383.3 L1962.0 363.3 L1948.4 363.1 L1947.6 402.3 L1958.6 402.5ZM1960.0 424.0 L1973.6 423.2 L1971.0 382.7 L1961.6 383.3 L1961.2 402.5 L1958.6 402.5ZM1962.9 500.8 L1976.5 500.6 L1975.9 460.9 L1962.3 461.1ZM1963.8 538.2 L1964.4 577.9 L1978.0 577.7 L1977.4 538.0ZM1979.1 615.8 L1965.5 616.0 L1966.1 654.9 L1979.7 654.7ZM1981.2 732.7 L1980.4 693.1 L1966.8 693.3 L1967.6 732.9ZM1988.8 809.0 L1989.3 802.0 L1987.7 801.9 L1988.7 807.3 L1982.0 808.5ZM1975.3 809.7 L1982.0 808.5 L1975.2 808.0 L1975.7 801.0 L1987.7 801.9 L1981.5 768.6 L1968.1 771.0ZM2008.0 793.9 L1997.6 802.7 L2022.7 832.4 L2033.1 823.6ZM2060.5 847.0 L2052.5 858.0 L2084.2 880.9 L2092.2 869.9ZM2125.0 887.8 L2119.6 900.2 L2155.4 915.6 L2160.8 903.2ZM2181.8 933.7 L2188.2 927.2 L2192.2 931.2 L2188.1 908.9 L2174.7 911.3 L2179.9 939.7 L2186.6 938.5ZM2186.6 938.5 L2191.4 943.3 L2197.8 936.8 L2192.2 931.2 L2193.3 937.3ZM2257.1 933.7 L2219.1 923.2 L2215.5 936.4 L2253.5 946.9ZM2331.9 951.8 L2294.9 942.8 L2291.7 956.0 L2328.7 965.0ZM2408.9 966.3 L2369.5 959.6 L2367.3 973.0 L2406.7 979.7Z" fill="#ff0000" fill-rule="evenodd" stroke="#ff0000" stroke-width="0.8" stroke-linejoin="miter"/>
</g>
<g stroke="#222222" stroke-width="4.2" fill="none" stroke-linecap="butt">
<rect x="311.1" y="93.0" width="2100.6" height="1659.0"/>
<path d="M658.2 1752.0 V1729.0 M658.2 93.0 V116.0"/>
<path d="M1005.4 1752.0 V1729.0 M1005.4 93.0 V116.0"/>
<path d="M1352.6 1752.0 V1729.0 M1352.6 93.0 V116.0"/>
<path d="M1699.7 1752.0 V1729.0 M1699.7 93.0 V116.0"/>
<path d="M2046.8 1752.0 V1729.0 M2046.8 93.0 V116.0"/>
<path d="M2394.0 1752.0 V1729.0 M2394.0 93.0 V116.0"/>
<path d="M311.1 1544.6 H334.1 M2411.7 1544.6 H2388.7"/>
<path d="M311.1 1337.2 H334.1 M2411.7 1337.2 H2388.7"/>
<path d="M311.1 1129.9 H334.1 M2411.7 1129.9 H2388.7"/>
<path d="M311.1 922.5 H334.1 M2411.7 922.5 H2388.7"/>
<path d="M311.1 715.1 H334.1 M2411.7 715.1 H2388.7"/>
<path d="M311.1 507.8 H334.1 M2411.7 507.8 H2388.7"/>
<path d="M311.1 300.4 H334.1 M2411.7 300.4 H2388.7"/>
</g>
<text class="tk" x="309.6" y="1846" text-anchor="middle">-0.6</text>
<text class="tk" x="656.8" y="1846" text-anchor="middle">-0.4</text>
<text class="tk" x="1003.9" y="1846" text-anchor="middle">-0.2</text>
<text class="tk" x="1351.1" y="1846" text-anchor="middle">0</text>
<text class="tk" x="1698.2" y="1846" text-anchor="middle">0.2</text>
<text class="tk" x="2045.3" y="1846" text-anchor="middle">0.4</text>
<text class="tk" x="2392.5" y="1846" text-anchor="middle">0.6</text>
<text class="tk" x="281.5" y="1778.0" text-anchor="end">-200</text>
<text class="tk" x="281.5" y="1570.6" text-anchor="end">-180</text>
<text class="tk" x="281.5" y="1363.2" text-anchor="end">-160</text>
<text class="tk" x="281.5" y="1155.9" text-anchor="end">-140</text>
<text class="tk" x="281.5" y="948.5" text-anchor="end">-120</text>
<text class="tk" x="281.5" y="741.1" text-anchor="end">-100</text>
<text class="tk" x="284" y="533.8" text-anchor="end">-80</text>
<text class="tk" x="284" y="326.4" text-anchor="end">-60</text>
<text class="tk" x="284" y="119.0" text-anchor="end">-40</text>
<text class="lb" x="1360" y="1943" text-anchor="middle">Doppler frequency (Hz)</text>
<text class="lb" style="fill:#3e3e3e" transform="translate(114.8 925.5) rotate(-90)" text-anchor="middle">Amplitude (dB)</text>
<rect x="1279" y="93.0" width="1132.6999999999998" height="179.2" fill="#fff" stroke="#222222" stroke-width="4.2"/>
<path d="M1297.8 142 H1444.1" stroke="#0000ff" stroke-width="10"/>
<path d="M1297.8 223.1 H1444.1" stroke="#ff0000" stroke-width="14" stroke-dasharray="40.3 37"/>
<text class="lg" x="1457.4" y="166.6">Errors using the reference RF signal</text>
<text class="lg" x="1457.4" y="246.8">Errors using high precision sensors</text>
</svg></body></html>
